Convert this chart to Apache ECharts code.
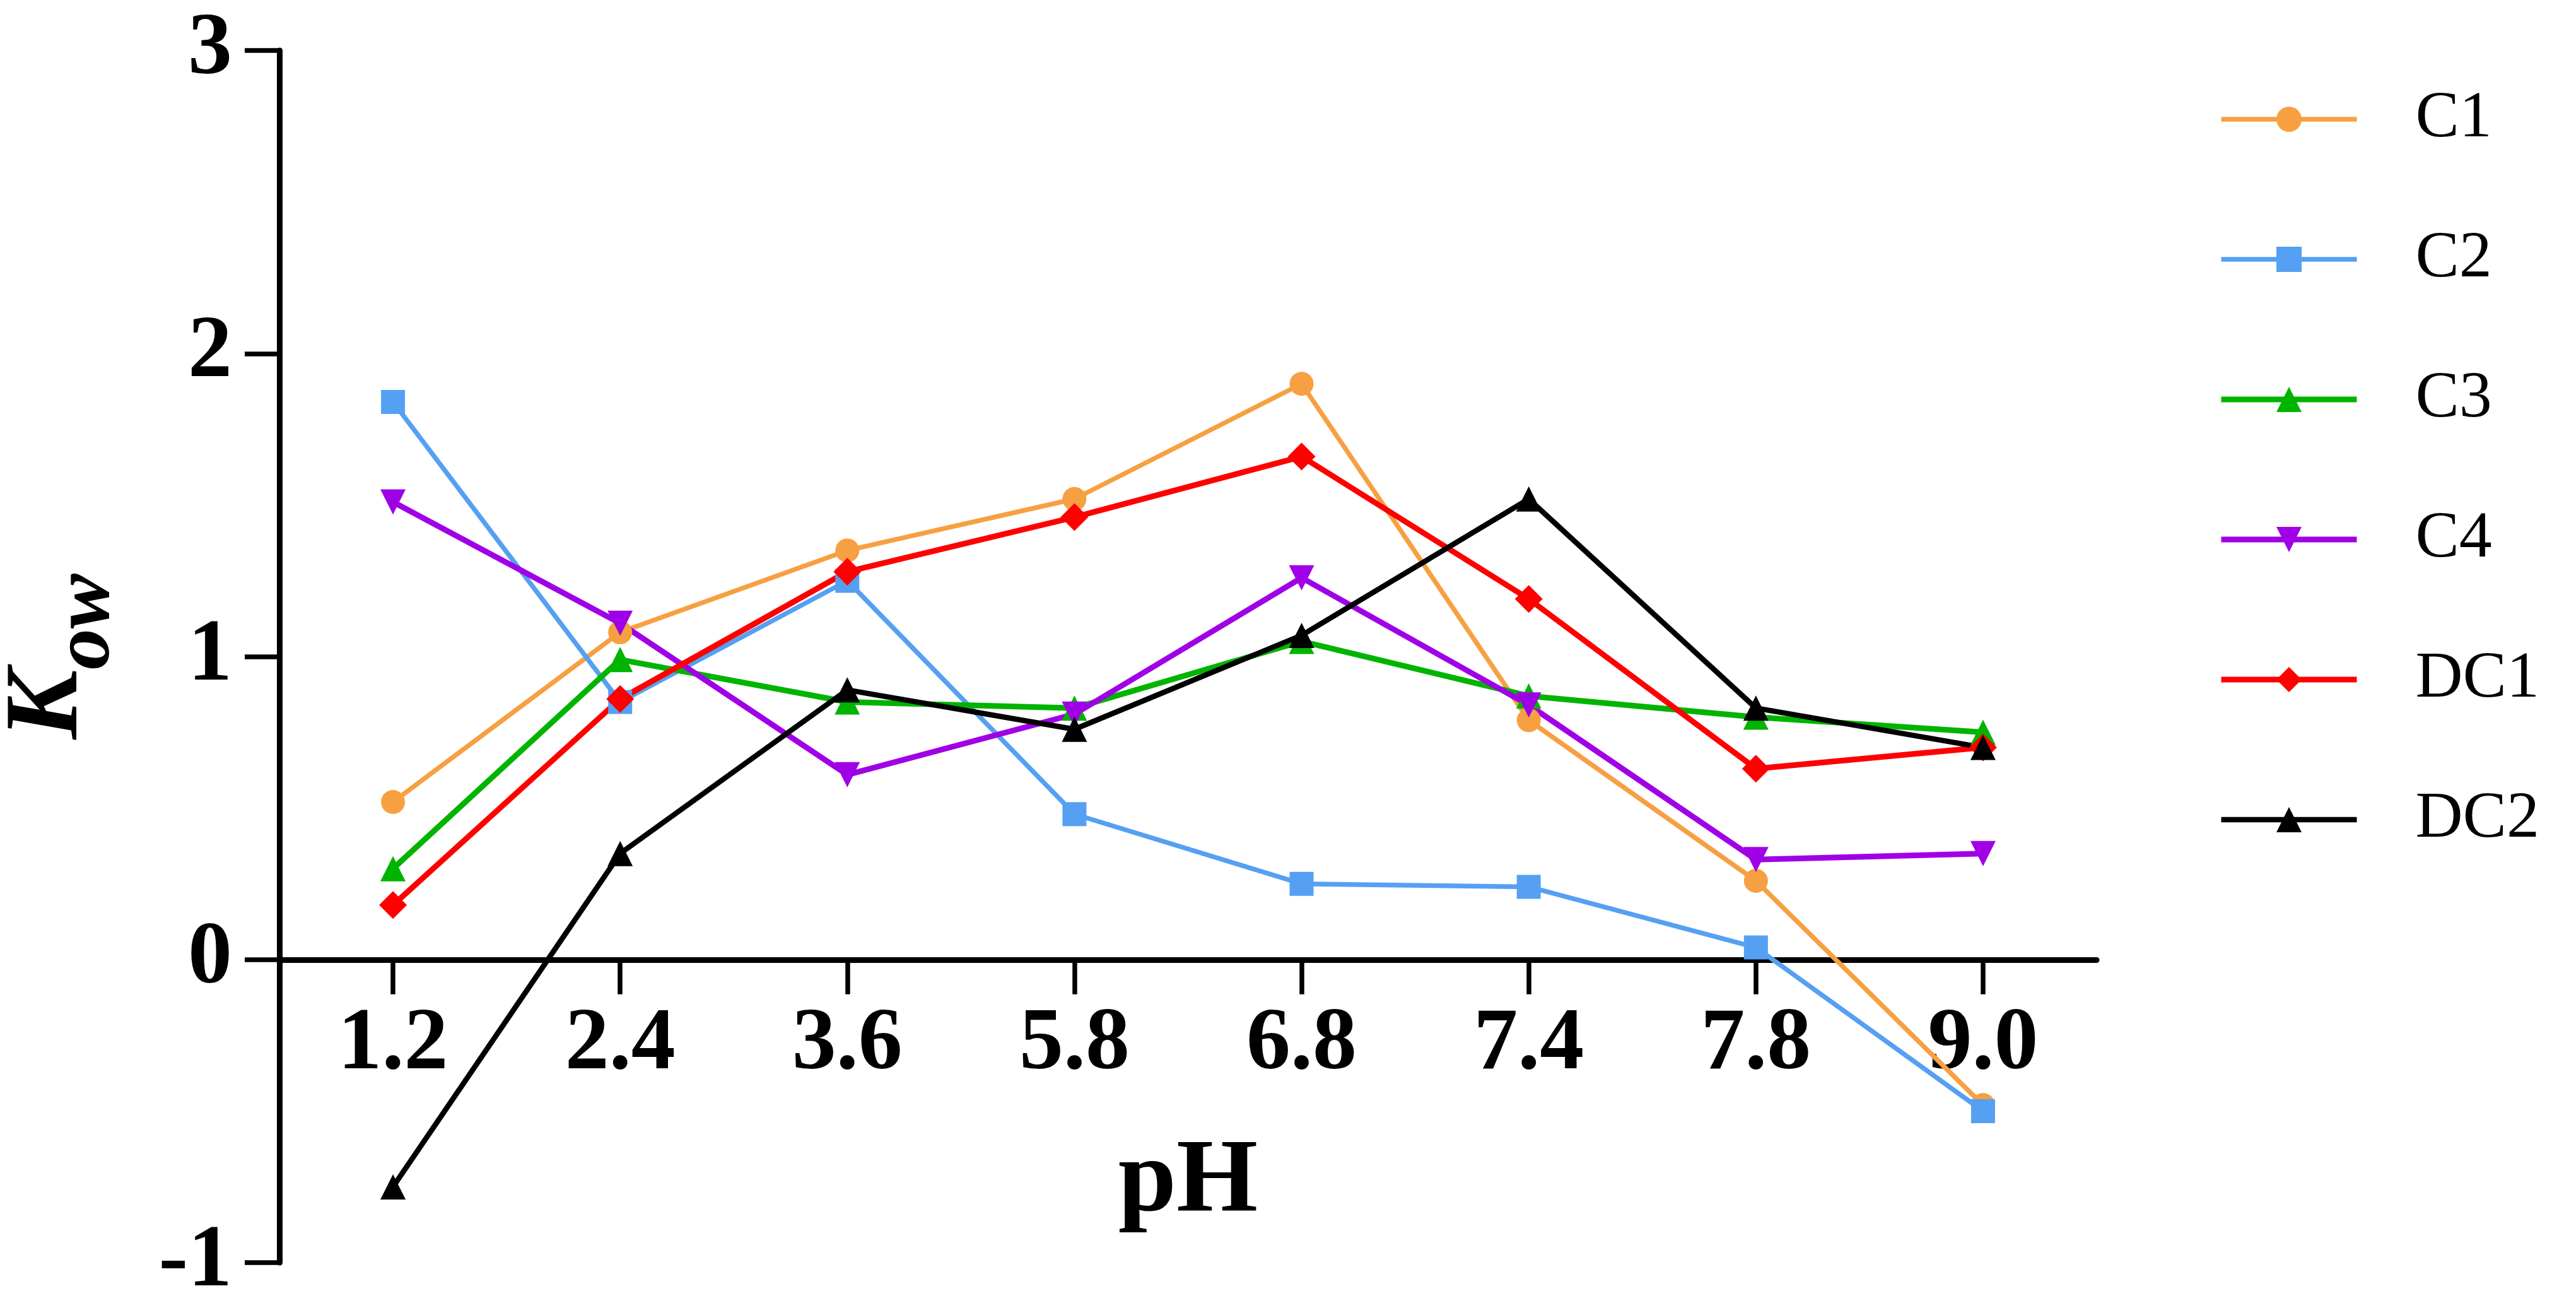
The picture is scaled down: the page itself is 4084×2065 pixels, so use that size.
<!DOCTYPE html>
<html>
<head>
<meta charset="utf-8">
<title>Kow vs pH</title>
<script src="https://cdn.jsdelivr.net/npm/echarts@6/dist/echarts.min.js"></script>
<style>
  html, body { margin: 0; padding: 0; background: #fff; }
  #chart { width: 4084px; height: 2065px; }
</style>
</head>
<body>
<div id="chart"></div>
<script>
// 数据
const categories = ["1.2", "2.4", "3.6", "5.8", "6.8", "7.4", "7.8", "9.0"];
const yTicks = [-1, 0, 1, 2, 3];
const c1 = [0.52, 1.08, 1.35, 1.52, 1.90, 0.79, 0.26, -0.48];
const c2 = [1.84, 0.85, 1.25, 0.48, 0.25, 0.24, 0.04, -0.50];
const c3 = [0.30, 0.99, 0.85, 0.83, 1.05, 0.87, 0.80, 0.75];
const c4 = [1.51, 1.11, 0.61, 0.81, 1.26, 0.84, 0.33, 0.35];
const dc1 = [0.18, 0.86, 1.28, 1.46, 1.66, 1.19, 0.63, 0.70];
const dc2 = [-0.75, 0.35, 0.89, 0.76, 1.07, 1.52, 0.83, 0.70];

(function () {
  let myChart = echarts.init(document.getElementById("chart"));
  const font = "'Liberation Serif', 'Times New Roman', serif";
  const gridTop = 80;
  const gridBottom = 64;
  const gridH = 2065 - gridTop - gridBottom;
  // x 轴放在 0 的位置（从底部往上移）
  const zeroOffset = -gridH * (0 - yTicks[0]) / (yTicks[yTicks.length - 1] - yTicks[0]);

  // 每条线的样式
  function line(name, data, color, symbol, size, width, rotate) {
    return {
      name: name,
      type: "line",
      data: data,
      symbol: symbol,
      symbolSize: size,
      symbolRotate: rotate || 0,
      showAllSymbol: true,
      lineStyle: { color: color, width: width },
      itemStyle: { color: color },
      emphasis: { disabled: true },
    };
  }

  let option = {
    animation: false,
    backgroundColor: "#fff",
    textStyle: { fontFamily: font },
    grid: {
      left: 443,
      right: 760,
      top: gridTop,
      bottom: gridBottom,
      containLabel: false,
      outerBoundsMode: "none",
    },
    legend: {
      orient: "vertical",
      left: 3517,
      top: 137,
      padding: 0,
      itemWidth: 215,
      itemHeight: 50,
      itemGap: 118,
      lineStyle: { width: "inherit" },
      textStyle: {
        fontFamily: font,
        fontSize: 104,
        color: "#000",
        padding: [0, 0, 0, 88],
      },
      data: ["C1", "C2", "C3", "C4", "DC1", "DC2"],
    },
    xAxis: {
      type: "category",
      data: categories,
      boundaryGap: true,
      position: "bottom",
      offset: zeroOffset,
      name: "pH",
      nameLocation: "middle",
      nameGap: 271,
      nameTextStyle: {
        fontFamily: font,
        fontSize: 166,
        fontWeight: "bold",
        color: "#000",
      },
      axisLine: {
        show: true,
        onZero: false,
        lineStyle: { color: "#000", width: 9 },
      },
      axisTick: {
        show: true,
        alignWithLabel: true,
        length: 55,
        lineStyle: { color: "#000", width: 7.5 },
      },
      axisLabel: {
        show: true,
        interval: 0,
        margin: 66,
        fontFamily: font,
        fontSize: 140,
        fontWeight: "bold",
        color: "#000",
      },
      splitLine: { show: false },
    },
    yAxis: {
      type: "value",
      min: yTicks[0],
      max: yTicks[yTicks.length - 1],
      interval: 1,
      name: "{k|K}{s|ow}",
      nameLocation: "middle",
      nameGap: 240,
      nameTextStyle: {
        rich: {
          k: {
            fontFamily: font,
            fontSize: 165,
            fontStyle: "italic",
            fontWeight: "bold",
            color: "#000",
            verticalAlign: "bottom",
            padding: [0, 0, 42, 0],
          },
          s: {
            fontFamily: font,
            fontSize: 130,
            fontStyle: "italic",
            fontWeight: "bold",
            color: "#000",
            verticalAlign: "bottom",
          },
        },
      },
      axisLine: {
        show: true,
        onZero: false,
        lineStyle: { color: "#000", width: 9 },
      },
      axisTick: {
        show: true,
        length: 55,
        lineStyle: { color: "#000", width: 7.5 },
      },
      axisLabel: {
        margin: 75,
        fontFamily: font,
        fontSize: 140,
        fontWeight: "bold",
        color: "#000",
      },
      splitLine: { show: false },
    },
    series: [
      line("C1", c1, "#F7A042", "circle", 38, 7.5),
      line("C2", c2, "#55A0F2", "rect", 38, 7.5),
      line("C3", c3, "#00B400", "triangle", 40, 9),
      line("C4", c4, "#A000E6", "triangle", 40, 9, 180),
      line("DC1", dc1, "#FF0000", "diamond", 44, 9),
      line("DC2", dc2, "#000000", "triangle", 40, 8.5),
    ],
  };

  myChart.setOption(option);
  window.addEventListener("resize", function () {
    myChart.resize();
  });
})();
</script>
</body>
</html>
